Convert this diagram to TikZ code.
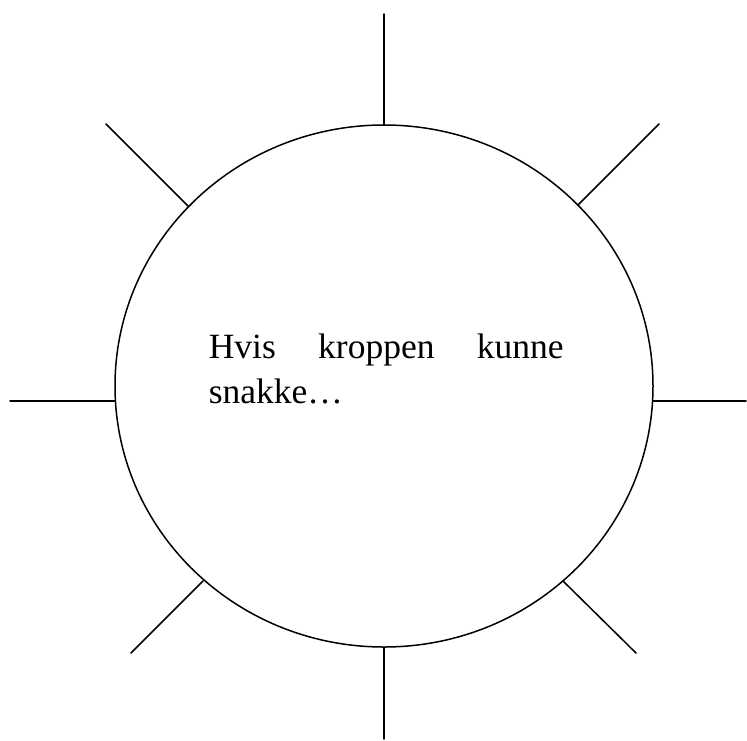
\documentclass[tikz,border=0pt]{standalone}
\usepackage{fontspec}
\setmainfont{Liberation Serif}
\begin{document}
\begin{tikzpicture}[x=1pt, y=-1pt, line join=round, line cap=round, line width=1.5pt]
	\useasboundingbox (0,0) rectangle (747,740);
	\path (384,386) coordinate (O)
		(384,14) coordinate (N) (384,125) coordinate (n)
		(384,739) coordinate (S) (384,647) coordinate (s)
		(10,401) coordinate (W) (115,401) coordinate (w)
		(746,401) coordinate (E) (653,401) coordinate (e)
		(106,124) coordinate (NW) (188,206) coordinate (nw)
		(659,124) coordinate (NE) (578,205) coordinate (ne)
		(131,653) coordinate (SW) (203,581) coordinate (sw)
		(636,653) coordinate (SE) (563,581) coordinate (se);
	\draw (O) ellipse [x radius=269pt, y radius=261pt];
	\foreach \a/\b in {N/n,S/s,W/w,E/e,NW/nw,NE/ne,SW/sw,SE/se} \draw (\a)--(\b);
	\node[anchor=base west, inner sep=0pt, text width=355pt, align=justify,
		font=\fontsize{35.5}{45}\selectfont] (talk) at (208,358) {Hvis kroppen kunne\linebreak snakke…};
\end{tikzpicture}
\end{document}
